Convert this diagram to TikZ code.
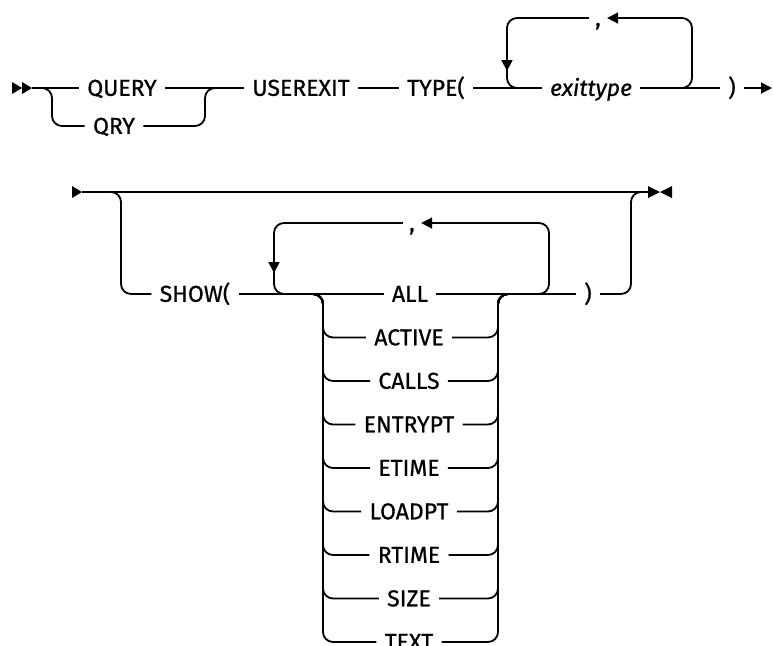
\documentclass[tikz,border=0pt]{standalone}
\usepackage{fontspec}
\setsansfont{Fira Sans}[FakeBold=0.7]
\usetikzlibrary{arrows.meta}

\begin{document}
\begin{tikzpicture}[x=0.5pt,y=-0.5pt,>={Triangle[length=5.5pt,width=5.5pt]},
  font=\sffamily\fontsize{11.5}{13}\selectfont,
  rail/.style={line width=0.9pt,rounded corners=5pt},
  kw/.style={inner xsep=4pt,inner ysep=0pt,text height=7.8pt,text depth=0pt},
  sep/.style={kw,inner xsep=3pt}]
\clip (0,0) rectangle (773,645);
\def\ya{88}\def\yb{126}\def\yt{18}
\def\yc{192}\def\yd{294}\def\ys{223}
% first line
\fill (12,82) -- (22,\ya) -- (12,94) -- cycle;
\fill (22,82) -- (32,\ya) -- (22,94) -- cycle;
\node[kw] (query) at (122,\ya) {QUERY};
\node[kw] (qry) at (114,\yb) {QRY};
\node[kw] (userexit) at (301,\ya) {USEREXIT};
\node[kw] (type) at (436,\ya) {TYPE(};
\node[kw] (exittype) at (591,\ya) {\textit{exittype}};
\node[kw] (rpa) at (732,\ya) {)};
\node[sep] (sepa) at (598,\yt) {,};
\draw[rail] (32,\ya) -- (query.west);
\draw[rail] (40,\ya) -- (52,\ya) -- (52,\yb) -- (qry.west);
\draw[rail] (qry.east) -- (205,\yb) -- (205,\ya) -- (214,\ya);
\draw[rail] (query.east) -- (userexit.west);
\draw[rail] (userexit.east) -- (type.west);
\draw[rail] (type.east) -- (exittype.west);
\draw[rail] (exittype.east) -- (rpa.west);
\draw[rail,->] (rpa.east) -- (772,\ya);
\draw[rail,->] (675,\ya) -- (692,\ya) -- (692,\yt) -- (sepa.east);
\draw[rail,->] (sepa.west) -- (507,\yt) -- (507,71);
\draw[rail] (507,66) -- (507,\ya) -- (525,\ya);
% second line
\fill (72,186) -- (82,\yc) -- (72,198) -- cycle;
\fill (648,186) -- (660,\yc) -- (648,198) -- cycle;
\fill (672,186) -- (660,\yc) -- (672,198) -- cycle;
\draw[rail] (82,\yc) -- (648,\yc);
\node[kw] (show) at (195,\yd) {SHOW(};
\node[kw] (all) at (410,\yd) {ALL};
\node[kw] (rpb) at (588,\yd) {)};
\node[sep] (sepb) at (412,\ys) {,};
\draw[rail] (110,\yc) -- (121,\yc) -- (121,\yd) -- (show.west);
\draw[rail] (show.east) -- (all.west);
\draw[rail] (all.east) -- (rpb.west);
\draw[rail] (rpb.east) -- (631,\yd) -- (631,\yc) -- (640,\yc);
\draw[rail,->] (535,\yd) -- (549,\yd) -- (549,\ys) -- (sepb.east);
\draw[rail,->] (sepb.west) -- (274,\ys) -- (274,273);
\draw[rail] (274,268) -- (274,\yd) -- (290,\yd);
\foreach \n/\t [count=\i] in {act/ACTIVE,cal/CALLS,ent/ENTRYPT,eti/ETIME,loa/LOADPT,rti/RTIME,siz/SIZE,txt/TEXT} {
  \node[kw] (\n) at (409,{\yd+43.5*\i}) {\t};
  \draw[rail] (310,\yd) -- (323,\yd) -- (323,{\yd+43.5*\i}) -- (\n.west);
  \draw[rail] (\n.east) -- (498,{\yd+43.5*\i}) -- (498,\yd) -- (511,\yd);
}
\end{tikzpicture}
\end{document}
